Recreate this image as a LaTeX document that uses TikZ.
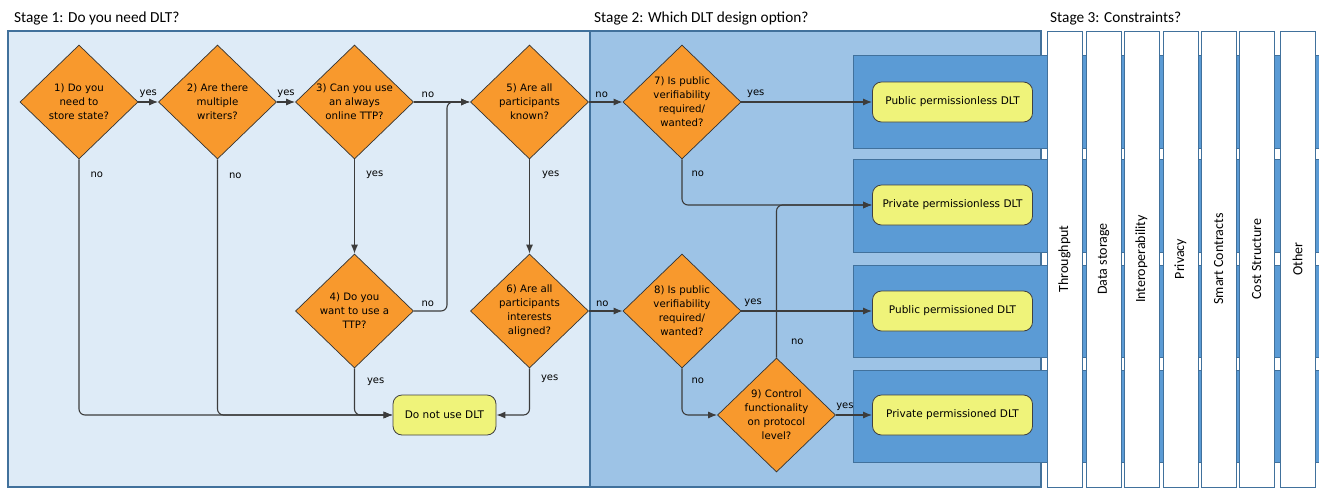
\documentclass[tikz,border=0pt]{standalone}
\usepackage{fontspec}
\setmainfont{DejaVu Sans}
\newfontfamily\calibri{Carlito}
\usetikzlibrary{shapes.geometric,arrows.meta,positioning}

\definecolor{stageone}{HTML}{DEEBF7}
\definecolor{stagetwo}{HTML}{9DC3E6}
\definecolor{bandblue}{HTML}{5B9BD5}
\definecolor{frameblue}{HTML}{41719C}
\definecolor{qorange}{HTML}{F8992D}
\definecolor{ryellow}{HTML}{EFF37A}
\definecolor{wire}{HTML}{3C3C3C}

\tikzset{
  decision/.style={diamond, draw=black!80, fill=qorange, line width=0.7pt, inner sep=0pt,
    minimum width=118pt, minimum height=114pt, align=center, font=\fontsize{10.2}{14}\selectfont},
  result/.style={draw=black!75, fill=ryellow, rounded corners=9pt, line width=0.8pt,
    minimum height=40pt, font=\fontsize{10.5}{13}\selectfont},
  flow/.style={draw=wire, line width=1.1pt, rounded corners=6pt, -{Latex[length=9pt,width=7pt]}},
  lbl/.style={font=\fontsize{10}{12}\selectfont, inner sep=1pt},
  stagetitle/.style={font=\calibri\fontsize{15.3}{17}\selectfont, inner sep=0pt, anchor=base west},
  constraint/.style={draw=frameblue, fill=white, line width=1pt, rotate=90,
    minimum width=456pt, minimum height=35pt, inner sep=0pt, font=\calibri\fontsize{14}{16}\selectfont}
}

\begin{document}
\begin{tikzpicture}[x=1pt, y=-1pt]

    \useasboundingbox (0,0) rectangle (1319,488);
    \clip (0,0) rectangle (1319,488);

    % Stage panels
    \draw[frameblue, fill=stageone, line width=1.2pt] (8,31) rectangle (590,487);
    \draw[frameblue, fill=stagetwo, line width=1.2pt] (590,31) rectangle (1041,487);
    \node[stagetitle] (t1) at (14,22) {Stage 1: Do you need DLT?};
    \node[stagetitle] (t2) at (594,22) {Stage 2: Which DLT design option?};
    \node[stagetitle] (t3) at (1050,22) {Stage 3: Constraints?};

    % Outcome bands
    \foreach \top/\bot in {55/148, 159/252, 265/357, 370/462} {
        \draw[frameblue, fill=bandblue, line width=1pt] (853,\top) rectangle (1330,\bot);
    }

    % Constraint columns
    \foreach \x/\name [count=\i] in {1047/Throughput, 1086/Data storage, 1124/Interoperability,
        1163/Privacy, 1201/Smart Contracts, 1239/Cost Structure, 1280/Other} {
        \node[constraint] (c\i) at (\x+17.5,259) {\name};
    }

    % Questions
    \node[decision] (d1) at (79,102) {1) Do you\\need to\\store state?};
    \node[decision] (d2) at (217.5,102) {2) Are there\\multiple\\writers?};
    \node[decision] (d3) at (354.5,102) {3) Can you use\\an always\\online TTP?};
    \node[decision] (d4) at (354.5,311) {4) Do you\\want to use a\\TTP?};
    \node[decision] (d5) at (529.5,102) {5) Are all\\participants\\known?};
    \node[decision] (d6) at (529.5,311) {6) Are all\\participants\\interests\\aligned?};
    \node[decision] (d7) at (682,102) {7) Is public\\verifiability\\required/\\wanted?};
    \node[decision] (d8) at (682,311) {8) Is public\\verifiability\\required/\\wanted?};
    \node[decision] (d9) at (776.5,415) {9) Control\\functionality\\on protocol\\level?};

    % Outcomes
    \node[result, minimum width=103pt] (stop) at (444.5,415) {Do not use DLT};
    \node[result, minimum width=160pt] (pub1) at (952.5,102) {Public permissionless DLT};
    \node[result, minimum width=160pt] (pri1) at (952.5,205) {Private permissionless DLT};
    \node[result, minimum width=160pt] (pub2) at (952.5,311) {Public permissioned DLT};
    \node[result, minimum width=160pt] (pri2) at (952.5,415) {Private permissioned DLT};

    % Stage 1 flow
    \coordinate (j1) at (447,102);
    \draw[flow] (d1.east) -- node[lbl, above=3pt] {yes} (d2.west);
    \draw[flow] (d2.east) -- node[lbl, above=3pt] {yes} (d3.west);
    \draw[flow] (d3.east) -- node[lbl, above=3pt, pos=0.25] {no} (d5.west);
    \draw[flow] (d4.east) -| node[lbl, above=3pt, pos=0.21] {no} (j1) -- (d5.west);
    \draw[flow] (d1.south) |- node[lbl, right=10pt, pos=0.031] {no} (stop.west);
    \draw[flow] (d2.south) |- node[lbl, right=10pt, pos=0.033] {no} (stop.west);
    \draw[flow] (d3.south) -- node[lbl, right=10pt, pos=0.16] {yes} (d4.north);
    \draw[flow] (d4.south) |- node[lbl, right=11pt, pos=0.14] {yes} (stop.west);
    \draw[flow] (d5.south) -- node[lbl, right=11pt, pos=0.16] {yes} (d6.north);
    \draw[flow] (d6.south) |- node[lbl, right=10pt, pos=0.11] {yes} (stop.east);

    % Stage 2 flow
    \draw[flow] (d5.east) -- node[lbl, above=3pt, pos=0.38] {no} (d7.west);
    \draw[flow] (d7.east) -- node[lbl, above=3pt, pos=0.11] {yes} (pub1.west);
    \draw[flow] (d7.south) |- node[lbl, right=8pt, pos=0.16] {no} (pri1.west);
    \draw[flow] (d6.east) -- node[lbl, above=3pt, pos=0.4] {no} (d8.west);
    \draw[flow] (d8.east) -- node[lbl, above=3pt, pos=0.09] {yes} (pub2.west);
    \draw[flow] (d8.south) |- node[lbl, right=8pt, pos=0.13] {no} (d9.west);
    \draw[flow] (d9.east) -- node[lbl, above=3pt, pos=0.25] {yes} (pri2.west);
    \draw[flow] (d9.north) |- node[lbl, right=13pt, pos=0.052] {no} (pri1.west);

\end{tikzpicture}
\end{document}
